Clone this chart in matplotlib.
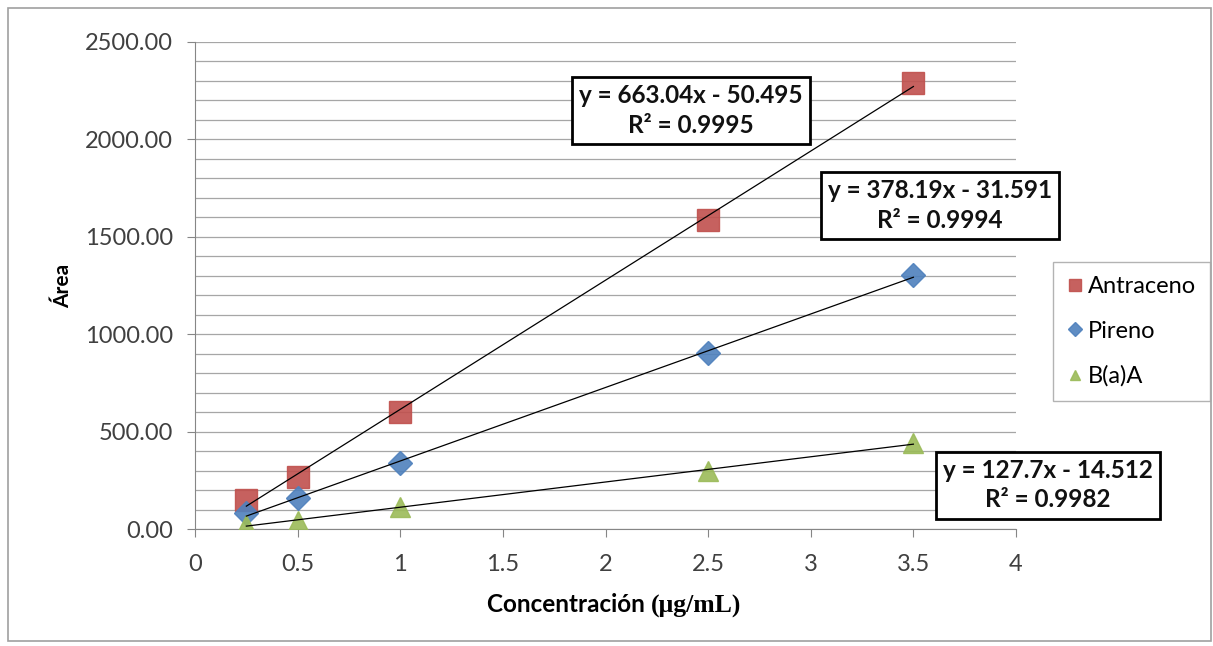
import matplotlib.pyplot as plt
import numpy as np
from matplotlib.patches import Rectangle

# concentration (ug/mL) and peak areas
conc = [0.25, 0.5, 1.0, 2.5, 3.5]
antraceno = [148, 268, 602, 1588, 2290]
pireno = [82, 158, 338, 903, 1304]
baa = [20, 42, 115, 300, 440]

series_names = ['Antraceno', 'Pireno', 'B(a)A']
eq_labels = ['y = 663.04x - 50.495\nR² = 0.9995',
             'y = 378.19x - 31.591\nR² = 0.9994',
             'y = 127.7x - 14.512\nR² = 0.9982']
x_ticks = [0, 0.5, 1, 1.5, 2, 2.5, 3, 3.5, 4]
x_ticklabels = ['0', '0.5', '1', '1.5', '2', '2.5', '3', '3.5', '4']
y_ticks = [0, 500, 1000, 1500, 2000, 2500]

plt.rcParams['font.family'] = ['Lato', 'DejaVu Sans']

fig = plt.figure(figsize=(12.13, 6.46), dpi=100)
ax = fig.add_axes([0.1608, 0.181, 0.6768, 0.754])

# outer chart border
fig.patches.append(Rectangle((0.007, 0.008), 0.991, 0.979, transform=fig.transFigure,
                             fill=False, edgecolor='#a0a0a0', linewidth=1.2))

colors = ['#c0504d', '#4f81bd', '#9bbb59']
markers = ['s', 'D', '^']
sizes = [16, 12.5, 14]
data = [antraceno, pireno, baa]

handles = []
for vals, name, c, m, s in zip(data, series_names, colors, markers, sizes):
    h, = ax.plot(conc, vals, linestyle='none', marker=m, markersize=s,
                 markerfacecolor=c, markeredgecolor=c, alpha=0.9, label=name, zorder=3)
    handles.append(h)
    k, b = np.polyfit(conc, vals, 1)
    xs = np.array([min(conc), max(conc)])
    ax.plot(xs, k * xs + b, color='black', linewidth=0.9, zorder=4)

ax.set_xlim(0, 4)
ax.set_ylim(0, 2500)
ax.set_xticks(x_ticks)
ax.set_xticklabels(x_ticklabels)
ax.set_yticks(y_ticks)
ax.set_yticklabels(['%.2f' % v for v in y_ticks])
ax.set_yticks(np.arange(0, 2501, 100), minor=True)
ax.yaxis.grid(True, which='both', color='#a6a6a6', linewidth=0.9)
ax.set_axisbelow(True)

for sp in ['top', 'right']:
    ax.spines[sp].set_visible(False)
for sp in ['left', 'bottom']:
    ax.spines[sp].set_color('#868686')
ax.tick_params(axis='both', which='major', direction='out', length=6, color='#868686',
               labelsize=17, labelcolor='#404040')
ax.tick_params(axis='y', which='major', pad=10)
ax.tick_params(axis='x', which='major', pad=12)
ax.tick_params(axis='y', which='minor', length=0)

ax.set_ylabel('Área', fontsize=15, fontweight='bold', labelpad=8)

# x label: sans part and serif part
t1 = fig.text(0.0, 0.052, 'Concentración ', fontsize=17.5, fontweight='bold', ha='left', va='baseline')
t2 = fig.text(0.0, 0.052, '(μg/mL)', fontsize=18.5, fontweight='bold', ha='left', va='baseline',
              family='Liberation Serif')
fig.canvas.draw()
r = fig.canvas.get_renderer()
w1 = t1.get_window_extent(r).width / fig.bbox.width
w2 = t2.get_window_extent(r).width / fig.bbox.width
x0 = 0.5065 - (w1 + w2) / 2
t1.set_x(x0)
t2.set_x(x0 + w1)

# trend line equation boxes
eq_pos = [(0.5697, 0.829), (0.775, 0.682), (0.864, 0.249)]
for txt, (px, py) in zip(eq_labels, eq_pos):
    fig.text(px, py, txt, fontsize=17.5, fontweight='bold', ha='center', va='center',
             linespacing=1.35, multialignment='center', color='#111111',
             bbox=dict(boxstyle='square,pad=0.3', facecolor='white', edgecolor='black', linewidth=2))

leg = fig.legend(handles=handles, loc='center', bbox_to_anchor=(0.933, 0.487),
                 fontsize=17, frameon=True, fancybox=False, edgecolor='#a0a0a0',
                 handlelength=0.6, handletextpad=0.25, labelspacing=1.0, markerscale=0.55,
                 borderpad=0.6, borderaxespad=0.0)
leg.get_frame().set_linewidth(1.0)

fig.savefig('out.png', dpi=100)
